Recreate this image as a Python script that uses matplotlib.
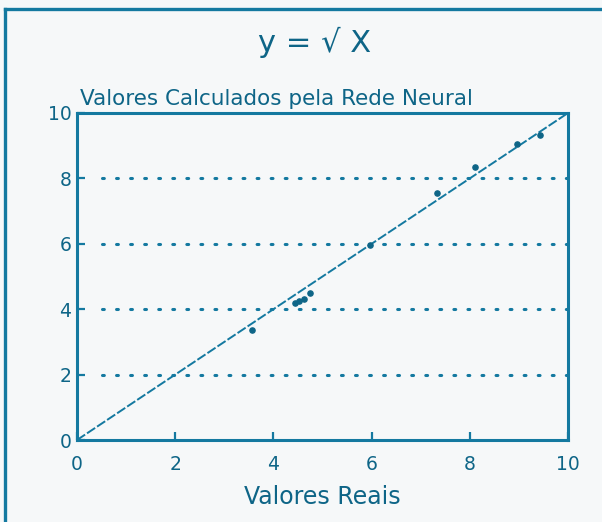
import matplotlib.pyplot as plt
from matplotlib.lines import Line2D

# valores reais x valores calculados pela rede neural
reais = [3.56, 4.43, 4.52, 4.63, 4.75, 5.97, 7.34, 8.11, 8.96, 9.43]
calculados = [3.36, 4.18, 4.25, 4.30, 4.50, 5.96, 7.54, 8.34, 9.04, 9.33]
ideal_x = [0, 10]
ideal_y = [0, 10]
ticks = [0, 2, 4, 6, 8, 10]
grade = [2, 4, 6, 8]

azul = '#1479a0'
azul_esc = '#0e6587'

fig = plt.figure(figsize=(6.02, 5.22), dpi=100)
fig.patch.set_facecolor('#f6f8f9')

# moldura externa
fig.add_artist(Line2D([5/602, 1.0], [1 - 9/522, 1 - 9/522], color=azul, lw=2.4, transform=fig.transFigure))
fig.add_artist(Line2D([5/602, 5/602], [1 - 9/522, 0.0], color=azul, lw=2.4, transform=fig.transFigure))

ax = fig.add_axes([77/602, 1 - 440/522, 491/602, 327/522])
ax.set_facecolor('#f6f8f9')

ax.plot(ideal_x, ideal_y, color=azul, lw=1.4, linestyle=(0, (5, 1.2)))
ax.scatter(reais, calculados, s=14, color=azul_esc, zorder=3)

for g in grade:
    ax.axhline(g, xmin=0.05, xmax=1.0, color=azul, lw=2.2, linestyle=(0, (0.6, 4.0)), dash_capstyle='round')

ax.set_xlim(0, 10)
ax.set_ylim(0, 10)
ax.set_xticks(ticks)
ax.set_yticks(ticks)
ax.tick_params(direction='in', length=6, width=1.6, color=azul, labelcolor=azul_esc, labelsize=13.5)
ax.tick_params(axis='x', pad=11)
ax.tick_params(axis='y', pad=4)
for s in ax.spines.values():
    s.set_color(azul)
    s.set_linewidth(2.2)

ax.set_xlabel('Valores Reais', fontsize=17, color=azul_esc, labelpad=8)
fig.text(80/602, 1 - 105/522, 'Valores Calculados pela Rede Neural', fontsize=15.5, color=azul_esc, ha='left', va='baseline')
fig.text(315/602, 1 - 42/522, 'y = √ X', fontsize=22, color=azul_esc, ha='center', va='center')

fig.savefig('out.png', dpi=100, facecolor=fig.get_facecolor())
